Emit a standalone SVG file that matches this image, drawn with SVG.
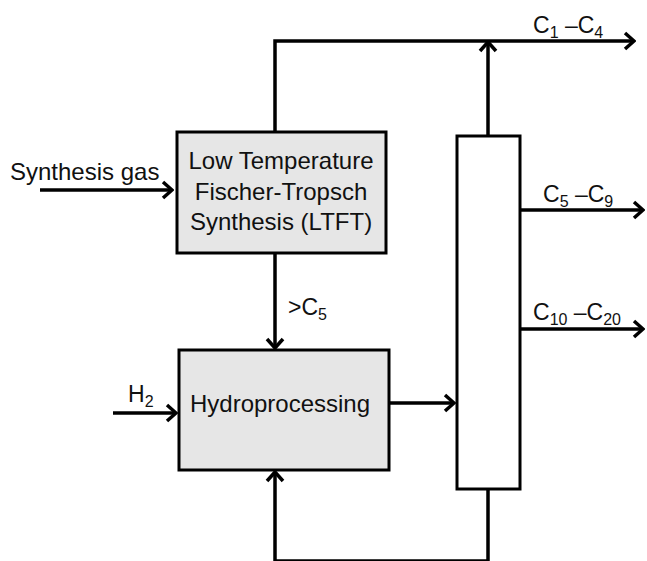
<svg xmlns="http://www.w3.org/2000/svg" width="647" height="561" viewBox="0 0 647 561">
<defs>
<marker id="arr" viewBox="-12 -10 14 20" refX="0" refY="0" markerWidth="14" markerHeight="20" markerUnits="userSpaceOnUse" orient="auto">
<path d="M -9 -8 L 0 0 L -9 8" fill="none" stroke="#000" stroke-width="3.5" stroke-linejoin="miter"/>
</marker>
<style>
.box{fill:#e6e6e6;stroke:#000;stroke-width:3}
.col{fill:#fff;stroke:#000;stroke-width:3}
.ar{fill:none;stroke:#000;stroke-width:3.5;marker-end:url(#arr)}
text{font-family:"Liberation Sans",Arial,sans-serif;font-size:24px;fill:#111}
.lbl{font-size:23px}
.sub{font-size:16px}
</style>
</defs>
<g id="connectors">
<path class="ar" d="M 275 131 L 275 41 L 634 41"/>
<path class="ar" d="M 488 136 L 488 42"/>
<path class="ar" d="M 40 190 L 172 190"/>
<path class="ar" d="M 275 253 L 275 348"/>
<path class="ar" d="M 113 413 L 176 413"/>
<path class="ar" d="M 390 403 L 454 403"/>
<path class="ar" d="M 520 210 L 643 210"/>
<path class="ar" d="M 520 329 L 643 329"/>
<path class="ar" d="M 488 489 L 488 561 L 275 561 L 275 472"/>
</g>
<g id="ltft">
<rect class="box" x="177" y="132" width="209" height="121"/>
<text x="281" y="169" text-anchor="middle">Low Temperature</text>
<text x="281" y="200" text-anchor="middle">Fischer-Tropsch</text>
<text x="281" y="230" text-anchor="middle">Synthesis (LTFT)</text>
</g>
<g id="hydro">
<rect class="box" x="179" y="350" width="210" height="120"/>
<text x="280" y="412" text-anchor="middle">Hydroprocessing</text>
</g>
<g id="column">
<rect class="col" x="457" y="136" width="63" height="353"/>
</g>
<g id="labels">
<text x="10" y="180">Synthesis gas</text>
<text class="lbl" x="128" y="402">H<tspan class="sub" dy="5">2</tspan></text>
<text class="lbl" x="288" y="315">&gt;C<tspan class="sub" dy="5">5</tspan></text>
<text class="lbl" x="533" y="33">C<tspan class="sub" dy="5">1</tspan><tspan dy="-5"> –C</tspan><tspan class="sub" dy="5">4</tspan></text>
<text class="lbl" x="543" y="202">C<tspan class="sub" dy="5">5</tspan><tspan dy="-5"> –C</tspan><tspan class="sub" dy="5">9</tspan></text>
<text class="lbl" x="533" y="320">C<tspan class="sub" dy="5">10</tspan><tspan dy="-5"> –C</tspan><tspan class="sub" dy="5">20</tspan></text>
</g>
</svg>
